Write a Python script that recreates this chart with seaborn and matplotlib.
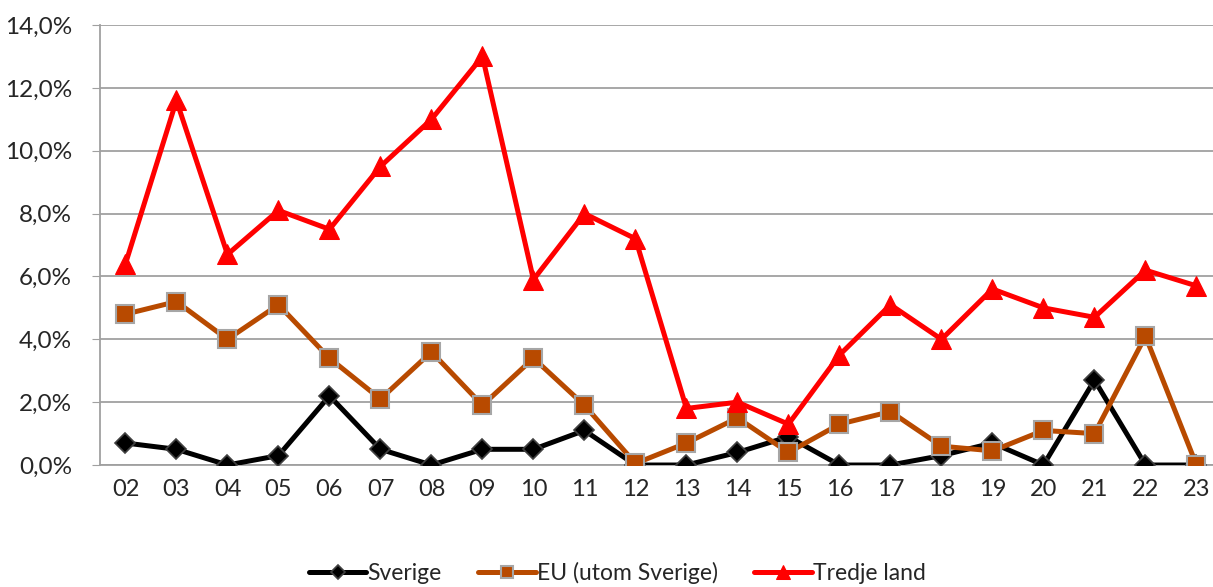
import numpy as np
import pandas as pd
import seaborn as sns
import matplotlib.pyplot as plt
from matplotlib.ticker import FuncFormatter

years = ["02", "03", "04", "05", "06", "07", "08", "09", "10", "11", "12",
         "13", "14", "15", "16", "17", "18", "19", "20", "21", "22", "23"]
sverige = [0.7, 0.5, 0.0, 0.3, 2.2, 0.5, 0.0, 0.5, 0.5, 1.1, 0.0,
           0.0, 0.4, 0.9, 0.0, 0.0, 0.3, 0.7, 0.0, 2.7, 0.0, 0.0]
eu = [4.8, 5.2, 4.0, 5.1, 3.4, 2.1, 3.6, 1.9, 3.4, 1.9, 0.05,
      0.7, 1.5, 0.4, 1.3, 1.7, 0.6, 0.45, 1.1, 1.0, 4.1, 0.0]
tredje = [6.4, 11.6, 6.7, 8.1, 7.5, 9.5, 11.0, 13.0, 5.9, 8.0, 7.2,
          1.8, 2.0, 1.3, 3.5, 5.1, 4.0, 5.6, 5.0, 4.7, 6.2, 5.7]

sns.set_style("white")
plt.rcParams["font.family"] = ["Lato", "DejaVu Sans"]

fig = plt.figure(figsize=(12.13, 5.87), dpi=100)
ax = fig.add_axes([0.0824, 0.2078, 0.925, 0.7496])

sns.lineplot(x=years, y=sverige, ax=ax, color="black", linewidth=3.6,
             marker="D", markersize=10, markeredgecolor="#404040",
             markeredgewidth=1.2, label="Sverige", zorder=3)
sns.lineplot(x=years, y=eu, ax=ax, color="#b84a00", linewidth=3.6,
             marker="s", markersize=13, markeredgecolor="#a6a6a6",
             markeredgewidth=1.5, label="EU (utom Sverige)", zorder=4)
sns.lineplot(x=years, y=tredje, ax=ax, color="#ff0000", linewidth=3.6,
             marker="^", markersize=14, markeredgecolor="#ff0000",
             label="Tredje land", zorder=5)

ax.set_ylim(0, 14)
ax.set_xlim(-0.5, len(years) - 0.5)
ax.set_yticks(np.arange(0, 14.1, 2))
ax.yaxis.set_major_formatter(FuncFormatter(lambda v, p: f"{v:.1f}%".replace(".", ",")))
ax.grid(axis="y", color="#a0a0a0", linewidth=1.3)
ax.set_axisbelow(True)
for s in ["top", "right"]:
    ax.spines[s].set_visible(False)
for s in ["left", "bottom"]:
    ax.spines[s].set_color("#a0a0a0")
    ax.spines[s].set_linewidth(1.3)
ax.tick_params(axis="y", labelsize=17.5, length=6, color="#a0a0a0", left=True, pad=14)
ax.tick_params(axis="x", labelsize=17, length=0, pad=10)
ax.set_xlabel("")
ax.set_ylabel("")

ax.get_legend().remove()
handles, labels = ax.get_legend_handles_labels()
fig.legend(handles, labels, loc="lower center", ncol=3, frameon=False,
           fontsize=16.5, bbox_to_anchor=(0.509, -0.03), handlelength=2.5,
           columnspacing=1.6, handletextpad=0.05, markerscale=0.7)

fig.savefig("out.png", dpi=100)
